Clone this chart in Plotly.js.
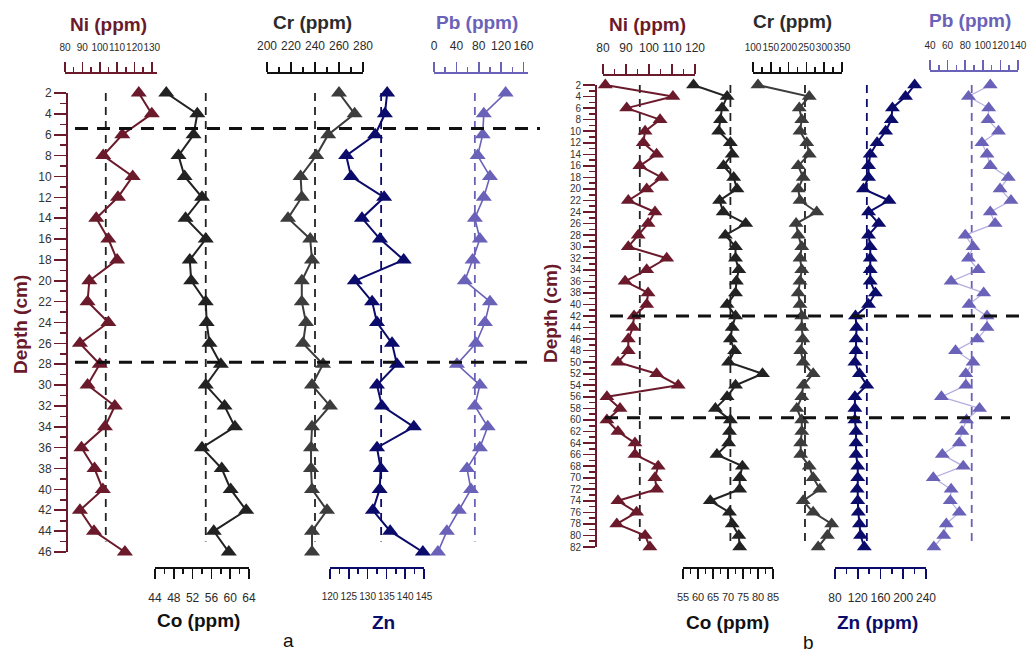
<!DOCTYPE html>
<html><head><meta charset="utf-8">
<script src="https://cdn.plot.ly/plotly-3.0.1.min.js"></script>
<style>html,body{margin:0;padding:0;background:#fff}</style>
</head><body><div id="chart" style="width:1028px;height:652px"></div>
<script>
// ---------------- data: panel a ----------------
const depthA = [2,4,6,8,10,12,14,16,18,20,22,24,26,28,30,32,34,36,38,40,42,44,46];
const niA = [122.5,130,113,102,119,110.5,98,105,110,94,93,105,88.6,100,93,108.7,103,89.5,97,101.8,88.6,96.7,114.5];
const coA = [46.4,53,52.2,49,50.3,54,50.5,54.8,51.4,51.7,54.8,55,55.6,58,54.8,58.8,61,54,58.2,60.1,63.4,56.5,59.7];
const crA = [260,273,251,241,228,229,217.5,236,237.5,229,229,232.5,230,246.7,237.5,252.5,237.5,236.7,236.7,237.5,250,237.5,237.5];
const znA = [135.2,134.6,132,124.3,125.6,134.4,128.5,133.3,139.6,126.6,131.2,132.5,136.5,137.8,132.5,133.8,142.3,132.5,133.5,133.2,131.4,136,144.7];
const pbA = [128,89,87,78,100,89,73,82,69,55,100,91,75,41,82,73,96,82,59,66,44.5,23,7];
// mean (dashed) values: Ni, Co, Cr, Zn, Pb
const meanA = [103.5,54.8,240,133.6,73];
const meanSpanA = [2,45];
const boundaryA = [5.4,27.8];

// ---------------- data: panel b ----------------
const depthB = [2,4,6,8,10,12,14,16,18,20,22,24,26,28,30,32,34,36,38,40,42,44,46,48,50,52,54,56,58,60,62,64,66,68,70,72,74,76,78,80,82];
const niB = [81,110.4,90.3,104.8,98.3,97.5,103.3,96,105.5,99,91,102.6,99.6,95.3,91,107.7,99,89.6,99.6,99,93.5,93,
             91,91,86.5,103.3,112.7,81.7,87.4,81.7,86.5,93.9,93.9,104,102.6,103.3,86.5,94.6,86,98.3,100.4];
const coB = [58.5,69.7,68,67.5,66.9,70.8,71.4,68.5,71.9,73,67.2,68.4,75.9,69.1,72.5,72.5,73.6,72.8,72.5,69.7,72.5,71.4,
             70.8,72.2,70.2,81.5,72.5,69.7,65.8,70.8,70.5,70.2,66.3,74.8,73.9,73.9,64.1,70.5,71.4,73.6,73.9];
const crB = [114,258,230,237,232,251,258,227,241,227,232,279,221,227,237,232,237,232,227,232,237,237,
             240,234,241,269,241,237,223,237,237,234,234,258,269,288,241,269,321,309,283];
const znB = [220,204,181,179,169,154,142,139,139,130,175,139,157,139,142,142,142,142,151,139,116,118,
             117,117,115,123,136,115,115,115,117,117,117,120,120,119,120,121,123,125,131.5];
const pbB = [108.5,83.7,106.7,106,117.8,99,104.8,108.5,129,119.6,132,108.5,114,80,88.9,83.7,94.8,64,101,84.4,104.8,104.8,
             93.7,69,88.9,80.7,80.7,53,96.3,81.5,76.3,73.3,54,77.8,43.7,64,63,73.3,58.5,55.6,44.4];
const meanB = [96,70.8,246,136,87.4];
const meanSpanB = [2,81];
const boundaryB = [42,59.6];

// ---------------- styling ----------------
const W = 1028, H = 652;
const px = v => v / W;
const py = v => 1 - v / H;
const NI = '#6b1a2b', CO = '#222222', CR = '#3c3c3c', ZN = '#0b0b6b', PB = '#6a61b8', PBL = '#b3acdf';
const TICKFONT = 'Liberation Sans Narrow, Arial Narrow, Liberation Sans, Arial, sans-serif';
const BOLD = 'Liberation Sans, Arial, sans-serif';

function xAxis(x0, x1, range, side, lineY, color, dtick, minorDtick, tick0, fs) {
  return {
    domain: [px(x0), px(x1)], range: range, anchor: 'free', position: py(lineY), side: side,
    showline: true, linecolor: color, linewidth: 1.6,
    ticks: 'outside', ticklen: 10, tickwidth: 1.6, tickcolor: color,
    tickmode: 'linear', tick0: tick0, dtick: dtick,
    minor: {tickmode: 'linear', tick0: tick0, dtick: minorDtick, ticks: 'outside', ticklen: 5, tickwidth: 1.6, tickcolor: color, showgrid: false},
    showgrid: false, zeroline: false, tickangle: 0, ticklabeloverflow: 'allow',
    tickfont: {family: TICKFONT, size: fs || 12, color: '#2a2a2a'},
    ticklabelstandoff: side === 'top' ? 7 : 9, fixedrange: true
  };
}
function yAxis(y0, y1, range, xPos, fontSize) {
  return {
    domain: [py(y1), py(y0)], range: range, anchor: 'free', position: px(xPos), side: 'left',
    showline: true, linecolor: NI, linewidth: 2,
    ticks: 'outside', ticklen: 12, tickwidth: 1.6, tickcolor: NI,
    tickmode: 'linear', tick0: 0, dtick: 2,
    minor: {tickmode: 'linear', tick0: 0, dtick: 1, ticks: 'outside', ticklen: 6, tickwidth: 1.6, tickcolor: NI, showgrid: false},
    showgrid: false, zeroline: false, ticklabeloverflow: 'allow',
    tickfont: {family: TICKFONT, size: fontSize, color: '#333'}, fixedrange: true
  };
}

const traces = [];
function series(depth, vals, xa, ya, color, lineColor, lw, ms) {
  traces.push({x: vals, y: depth, xaxis: xa, yaxis: ya, type: 'scatter', mode: 'lines+markers',
    cliponaxis: false, hoverinfo: 'skip',
    line: {color: lineColor || color, width: lw || 2},
    marker: {symbol: 'triangle-up', size: ms || 14, color: color}});
}
function meanLine(m, span, xa, ya, color) {
  traces.push({x: [m, m], y: span, xaxis: xa, yaxis: ya, type: 'scatter', mode: 'lines',
    hoverinfo: 'skip', line: {color: color, width: 1.8, dash: '8px,6px'}});
}

// panel a
meanLine(meanA[0], meanSpanA, 'x', 'y', '#222');
meanLine(meanA[1], meanSpanA, 'x2', 'y', '#222');
meanLine(meanA[2], meanSpanA, 'x3', 'y', '#222');
meanLine(meanA[3], meanSpanA, 'x4', 'y', ZN);
meanLine(meanA[4], meanSpanA, 'x5', 'y', PB);
series(depthA, niA, 'x', 'y', NI);
series(depthA, coA, 'x2', 'y', CO);
series(depthA, crA, 'x3', 'y', CR);
series(depthA, znA, 'x4', 'y', ZN);
series(depthA, pbA, 'x5', 'y', PB, PB, 1.6);
// panel b
meanLine(meanB[0], meanSpanB, 'x6', 'y2', '#222');
meanLine(meanB[1], meanSpanB, 'x7', 'y2', '#222');
meanLine(meanB[2], meanSpanB, 'x8', 'y2', '#222');
meanLine(meanB[3], meanSpanB, 'x9', 'y2', ZN);
meanLine(meanB[4], meanSpanB, 'x10', 'y2', PB);
series(depthB, niB, 'x6', 'y2', NI, NI, 2, 13);
series(depthB, coB, 'x7', 'y2', CO, CO, 2, 13);
series(depthB, crB, 'x8', 'y2', CR, CR, 2, 13);
series(depthB, znB, 'x9', 'y2', ZN, ZN, 2, 13);
series(depthB, pbB, 'x10', 'y2', PB, PBL, 1.2, 13);

function hDash(x0, x1, d, ya) {
  return {type: 'line', xref: 'paper', yref: ya, x0: px(x0), x1: px(x1), y0: d, y1: d,
    line: {color: '#111', width: 3, dash: '13px,9px'}, layer: 'above'};
}
function ann(text, x, y, color, size, angle) {
  return {text: text, xref: 'paper', yref: 'paper', x: px(x), y: py(y), xanchor: 'center', yanchor: 'middle',
    showarrow: false, textangle: angle || 0, font: {family: BOLD, size: size, color: color}};
}

const layout = {
  width: W, height: H, margin: {l: 0, r: 0, t: 0, b: 0},
  paper_bgcolor: '#fff', plot_bgcolor: 'rgba(0,0,0,0)', showlegend: false,
  xaxis:  xAxis(65, 157, [80, 133], 'top', 72, NI, 10, 5, 80, 10),
  xaxis2: xAxis(155, 249, [44, 64], 'bottom', 567, '#111', 4, 2, 44, 12),
  xaxis3: xAxis(267, 363, [200, 280], 'top', 72, '#111', 20, 10, 200, 12),
  xaxis4: xAxis(330, 424, [120, 145], 'bottom', 567, ZN, 5, 2.5, 120, 10),
  xaxis5: xAxis(434, 528, [0, 168], 'top', 72, PB, 40, 20, 0, 12),
  xaxis6: xAxis(603, 695, [80, 120], 'top', 74, NI, 10, 5, 80, 12),
  xaxis7: xAxis(683, 773, [55, 85], 'bottom', 567, '#111', 5, 2.5, 55, 11),
  xaxis8: xAxis(753, 842, [100, 350], 'top', 72, '#111', 50, 25, 100, 10),
  xaxis9: xAxis(835, 926, [80, 240], 'bottom', 567, ZN, 40, 20, 80, 12),
  xaxis10: xAxis(930, 1018, [40, 140], 'top', 70, PB, 20, 10, 40, 10),
  yaxis:  yAxis(93, 552, [46, 2], 67, 12),
  yaxis2: yAxis(85, 547, [82, 2], 596, 10),
  shapes: [
    hDash(75, 540, boundaryA[0], 'y'), hDash(75, 527, boundaryA[1], 'y'),
    hDash(610, 1025, boundaryB[0], 'y2'), hDash(605, 1010, boundaryB[1], 'y2')
  ],
  annotations: [
    ann('<b>Ni (ppm)</b>', 108, 24, NI, 19),
    ann('<b>Cr (ppm)</b>', 312, 22, '#2b2b2b', 19),
    ann('<b>Pb (ppm)</b>', 477, 22, PB, 19),
    ann('<b>Co (ppm)</b>', 198, 620, '#111', 19),
    ann('<b>Zn</b>', 383, 622, ZN, 19),
    ann('a', 288, 640, '#111', 19),
    ann('<b>Depth (cm)</b>', 20, 325, NI, 19, -90),
    ann('<b>Ni (ppm)</b>', 647, 24, NI, 19),
    ann('<b>Cr (ppm)</b>', 792, 21, '#2b2b2b', 19),
    ann('<b>Pb (ppm)</b>', 970, 20, PB, 19),
    ann('<b>Co (ppm)</b>', 727, 622, '#111', 19),
    ann('<b>Zn (ppm)</b>', 877, 622, ZN, 19),
    ann('b', 808, 642, '#111', 19),
    ann('<b>Depth (cm)</b>', 550, 314, NI, 19, -90)
  ]
};

Plotly.newPlot('chart', traces, layout, {staticPlot: true, displayModeBar: false});
</script>
</body></html>
